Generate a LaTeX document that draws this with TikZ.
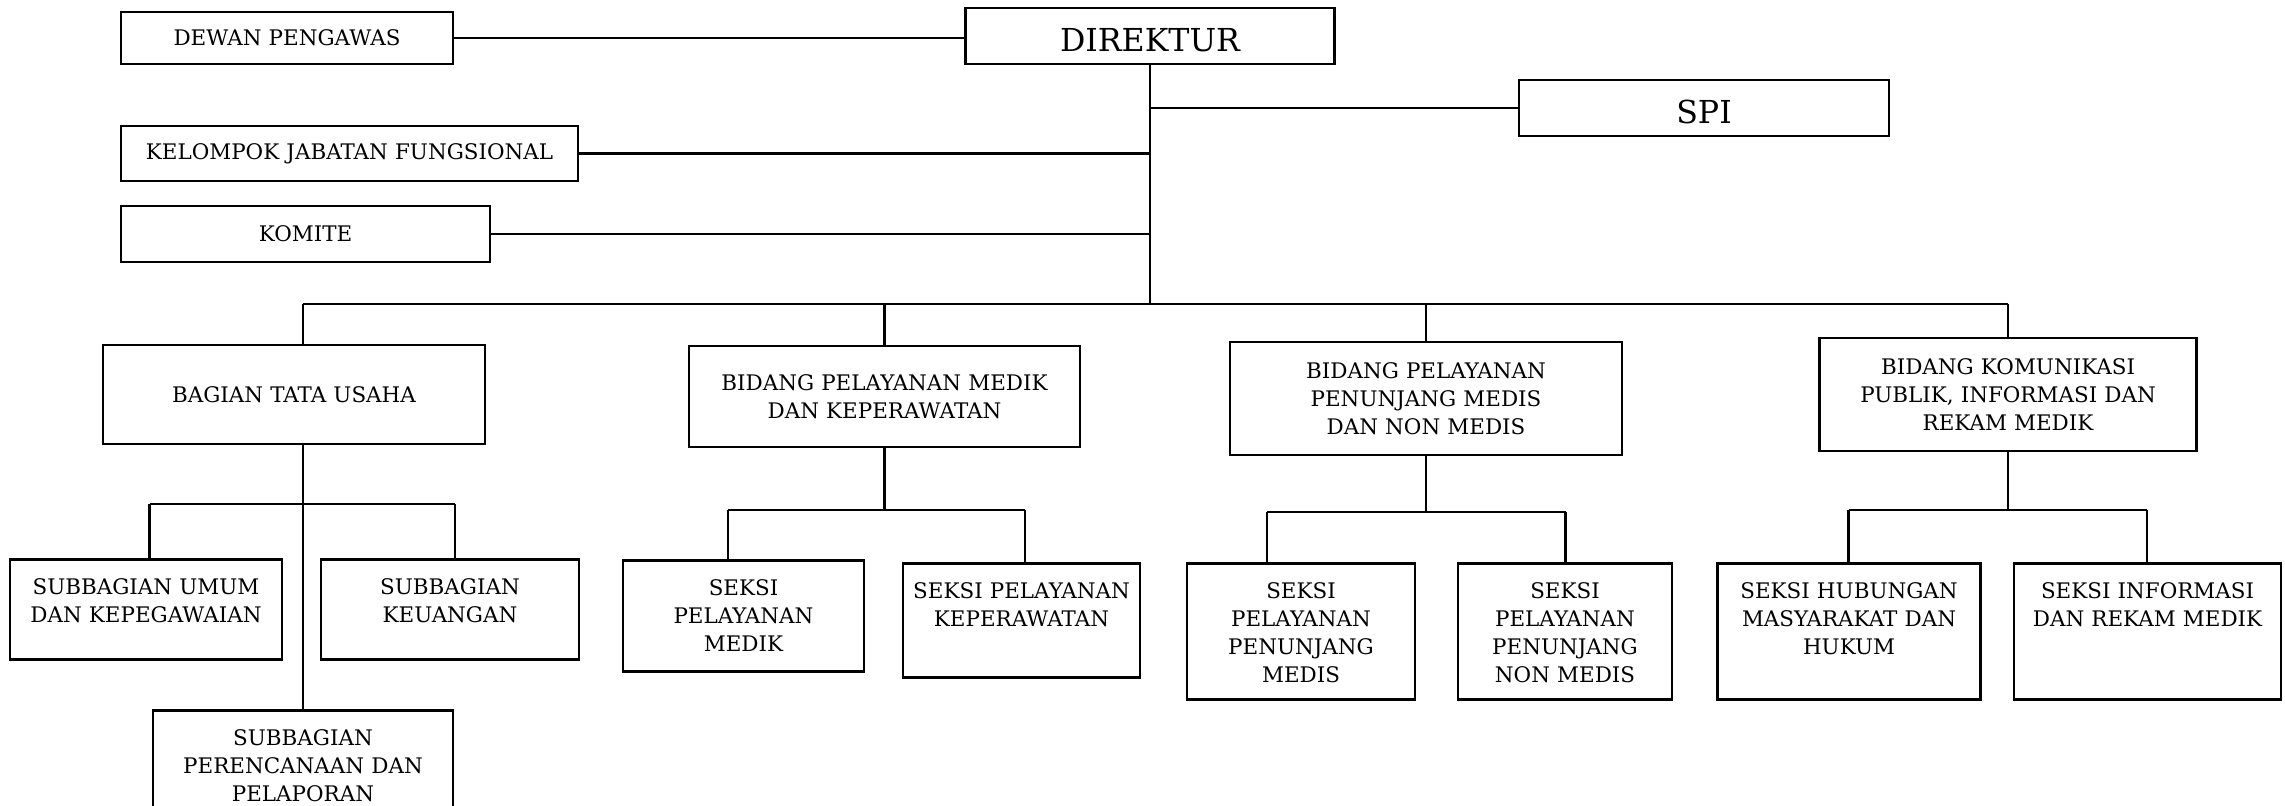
\documentclass[tikz,border=0pt]{standalone}
\usepackage{fontspec}
\setmainfont{DejaVu Serif}
\begin{document}
\begin{tikzpicture}[x=1mm, y=-1mm,
  unit/.style={draw, line width=0.8pt, inner sep=0pt, align=center, font=\fontsize{6.1}{8}\selectfont},
  head/.style={unit, font=\fontsize{9}{11}\selectfont, text height=3.2mm, text depth=0pt},
  seksi/.style={unit, anchor=north, text height=3.5mm},
  link/.style={line width=0.8pt}]
  % Page size of the chart
  \useasboundingbox (0,0) rectangle (228.5,80.6);

  % Director and the units beside him
  \node[head, text width=36.9mm, minimum height=5.6mm] (direktur) at (115.0,3.6) {DIREKTUR};
  \node[unit, text width=33.2mm, minimum height=5.2mm] (dewan) at (28.7,3.8) {DEWAN PENGAWAS};
  \node[head, text width=37.0mm, minimum height=5.6mm] (spi) at (170.4,10.8) {SPI};
  \node[unit, text width=45.7mm, minimum height=5.5mm] (kjf) at (34.95,15.35) {KELOMPOK JABATAN FUNGSIONAL};
  \node[unit, text width=36.9mm, minimum height=5.6mm] (komite) at (30.55,23.4) {KOMITE};

  % Bagian and bidang
  \node[unit, text width=38.2mm, minimum height=9.9mm] (tu) at (29.4,39.45) {BAGIAN TATA USAHA};
  \node[unit, text width=39.1mm, minimum height=10.1mm] (medik) at (88.45,39.65) {BIDANG PELAYANAN MEDIK\\DAN KEPERAWATAN};
  \node[unit, text width=39.2mm, minimum height=11.3mm] (penunjang) at (142.6,39.85) {BIDANG PELAYANAN\\PENUNJANG MEDIS\\DAN NON MEDIS};
  \node[unit, text width=37.7mm, minimum height=11.3mm] (kom) at (200.8,39.45) {BIDANG KOMUNIKASI\\PUBLIK, INFORMASI DAN\\REKAM MEDIK};

  % Subbagian and seksi
  \node[seksi, text width=27.2mm, text depth=6.5mm] (umum) at (14.6,55.8) {SUBBAGIAN UMUM\\DAN KEPEGAWAIAN};
  \node[seksi, text width=25.8mm, text depth=6.5mm] (keu) at (45.0,55.8) {SUBBAGIAN\\KEUANGAN};
  \node[seksi, text width=30.0mm, text depth=9.0mm] (pr) at (30.3,70.9) {SUBBAGIAN\\PERENCANAAN DAN\\PELAPORAN};
  \node[seksi, text width=24.1mm, text depth=7.6mm] (sm) at (74.35,55.9) {SEKSI\\PELAYANAN\\MEDIK};
  \node[seksi, text width=23.7mm, text depth=7.9mm] (sk) at (102.15,56.2) {SEKSI PELAYANAN\\KEPERAWATAN};
  \node[seksi, text width=22.8mm, text depth=10.1mm] (spm) at (130.1,56.2) {SEKSI\\PELAYANAN\\PENUNJANG\\MEDIS};
  \node[seksi, text width=21.4mm, text depth=10.1mm] (snm) at (156.5,56.2) {SEKSI\\PELAYANAN\\PENUNJANG\\NON MEDIS};
  \node[seksi, text width=26.35mm, text depth=10.1mm] (shm) at (184.9,56.2) {SEKSI HUBUNGAN\\MASYARAKAT DAN\\HUKUM};
  \node[seksi, text width=26.7mm, text depth=10.1mm] (sim) at (214.75,56.2) {SEKSI INFORMASI\\DAN REKAM MEDIK};

  % Bus ends
  \coordinate (busL) at (30.3,30.4);
  \coordinate (busR) at (200.8,30.4);
  \coordinate (tuL) at (14.96,50.4);
  \coordinate (tuR) at (45.5,50.4);
  \coordinate (mdL) at (72.8,51.0);
  \coordinate (mdR) at (102.5,51.0);
  \coordinate (pnL) at (126.7,51.2);
  \coordinate (pnR) at (156.55,51.2);
  \coordinate (kmL) at (184.85,51.0);
  \coordinate (kmR) at (214.7,51.0);

  % Lines from the director
  \draw[link] (dewan.east) -- (dewan.east -| direktur.west);
  \draw[link] (direktur.south) -- (direktur.south |- busL);
  \draw[link] (spi.west) -- (spi.west -| direktur.south);
  \draw[link] (kjf.east) -- (kjf.east -| direktur.south);
  \draw[link] (komite.east) -- (komite.east -| direktur.south);

  % Main bus
  \draw[link] (busL) -- (busR);
  \draw[link] (busL) -- (tu.north -| busL);
  \draw[link] (medik.north |- busL) -- (medik.north);
  \draw[link] (penunjang.north |- busL) -- (penunjang.north);
  \draw[link] (busR) -- (kom.north);

  % Tata usaha group
  \draw[link] (tu.south -| pr.north) -- (pr.north);
  \draw[link] (tuL) -- (tuR);
  \draw[link] (tuL) -- (tuL |- umum.north);
  \draw[link] (tuR) -- (tuR |- keu.north);

  % Bidang groups
  \foreach \p/\l/\r/\a/\b in {medik/mdL/mdR/sm/sk, penunjang/pnL/pnR/spm/snm, kom/kmL/kmR/shm/sim} {
    \draw[link] (\p.south) -- (\p.south |- \l);
    \draw[link] (\l) -- (\r);
    \draw[link] (\l) -- (\l |- \a.north);
    \draw[link] (\r) -- (\r |- \b.north);
  }
\end{tikzpicture}
\end{document}
